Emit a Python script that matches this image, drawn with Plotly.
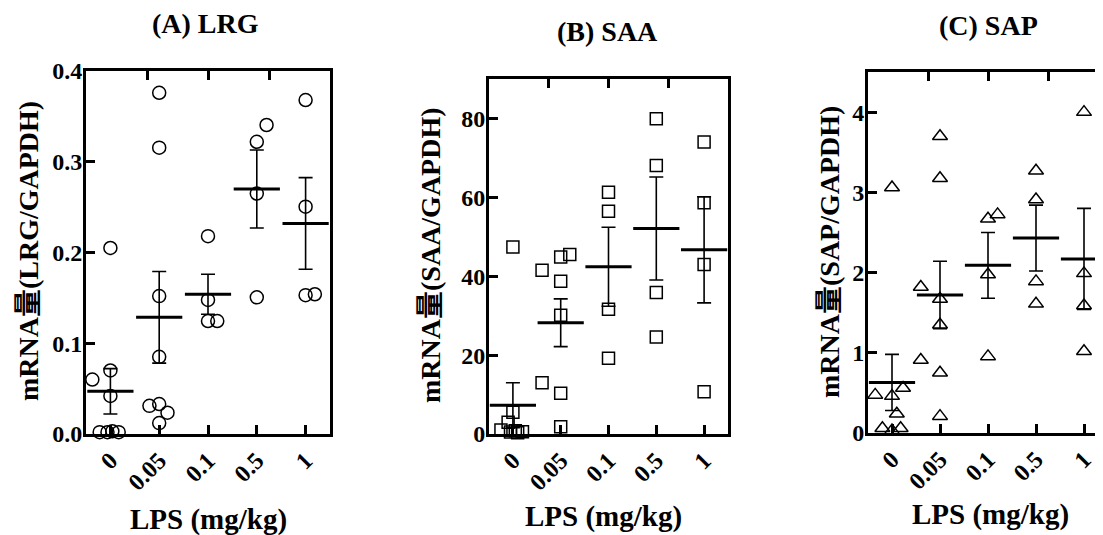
import plotly.graph_objects as go

W, H = 1103, 535
OFF = 8  # page body margin of the html page (figure sits at 8,8 on screen)

# ---------------- data ----------------
doses = ["0", "0.05", "0.1", "0.5", "1"]

# (A) LRG individual values per dose group
lrg_0 = [0.205, 0.060, 0.070, 0.042, 0.002, 0.002, 0.003, 0.002]
lrg_005 = [0.376, 0.3155, 0.152, 0.085, 0.031, 0.033, 0.0235, 0.012]
lrg_01 = [0.218, 0.1477, 0.1245, 0.1245]
lrg_05 = [0.3405, 0.322, 0.265, 0.1506]
lrg_1 = [0.368, 0.2505, 0.153, 0.154]
lrg_mean = [0.047, 0.1286, 0.154, 0.270, 0.232]
lrg_sem = [0.025, 0.0505, 0.022, 0.043, 0.0505]

# (B) SAA
saa_0 = [47.4, 5.5, 3.0, 1.0, 0.8, 0.6, 0.5, 0.3]
saa_005 = [44.9, 45.5, 41.5, 38.7, 30.1, 13.0, 10.3, 1.85]
saa_01 = [61.3, 56.5, 31.6, 19.2]
saa_05 = [79.9, 68.1, 35.9, 24.6]
saa_1 = [74.0, 58.6, 43.0, 10.7]
saa_mean = [7.3, 28.2, 42.4, 52.1, 46.7]
saa_sem = [5.7, 6.05, 10.0, 13.05, 13.45]

# (C) SAP
sap_0 = [3.06, 0.475, 0.46, 0.56, 0.24, 0.06, 0.03, 0.06]
sap_005 = [3.70, 3.175, 1.82, 1.67, 1.35, 0.91, 0.75, 0.21]
sap_01 = [2.67, 2.725, 1.975, 0.955]
sap_05 = [3.27, 2.91, 1.89, 1.61]
sap_1 = [4.0, 1.99, 1.59, 1.02]
sap_mean = [0.63, 1.72, 2.09, 2.43, 2.17]
sap_sem = [0.35, 0.42, 0.41, 0.41, 0.63]

# horizontal scatter (jitter) of the points, in category units
lrg_jit = [[0, -0.37, 0, 0, -0.22, -0.06, 0.04, 0.17],
           [0, 0, 0, 0, -0.2, 0, 0.17, 0],
           [0, 0, 0, 0.19],
           [0.2, 0, 0, 0],
           [0, 0, 0, 0.19]]
saa_jit = [[0, 0, -0.1, -0.25, 0.05, 0.2, -0.05, 0.1],
           [0, 0.19, -0.39, 0, 0, -0.39, 0, 0],
           [0, 0, 0, 0],
           [0, 0, 0, 0],
           [0, 0, 0, 0]]
sap_jit = [[0, -0.35, 0, 0.23, 0.1, -0.2, 0, 0.18],
           [0, 0, -0.4, 0, 0, -0.4, 0, 0],
           [0, 0.2, 0, 0],
           [0, 0, 0, 0],
           [0, 0, 0, 0]]

titles = ["(A) LRG", "(B) SAA", "(C) SAP"]
ytitles = ["mRNA量(LRG/GAPDH)", "mRNA量(SAA/GAPDH)", "mRNA量(SAP/GAPDH)"]
xtitle = "LPS (mg/kg)"

panels = [
    dict(groups=[lrg_0, lrg_005, lrg_01, lrg_05, lrg_1], jit=lrg_jit, mean=lrg_mean, sem=lrg_sem,
         symbol="circle-open", size=13, yrange=[0, 0.4], ytick=[0, 0.1, 0.2, 0.3, 0.4], fmt=".1f",
         px=(86, 330), py=(71, 434)),
    dict(groups=[saa_0, saa_005, saa_01, saa_05, saa_1], jit=saa_jit, mean=saa_mean, sem=saa_sem,
         symbol="square-open", size=12, yrange=[0, 90], ytick=[0, 20, 40, 60, 80], fmt="d",
         px=(489, 728), py=(79, 434)),
    dict(groups=[sap_0, sap_005, sap_01, sap_05, sap_1], jit=sap_jit, mean=sap_mean, sem=sap_sem,
         symbol="triangle-up-open", size=13, yrange=[0, 4.5], ytick=[0, 1, 2, 3, 4], fmt="d",
         px=(868, 1108), py=(72, 433)),
]

FONT = "Liberation Serif, Times New Roman, Noto Sans CJK SC, serif"


def fx(px):
    return (px - OFF) / W


def fy(py):
    return 1 - (py - OFF) / H


fig = go.Figure()
layout = dict(template="none", width=W, height=H, margin=dict(l=0, r=0, t=0, b=0, autoexpand=False),
              paper_bgcolor="white", plot_bgcolor="white", showlegend=False,
              font=dict(family=FONT, color="black", size=20))
annotations = []

for i, p in enumerate(panels):
    n = i + 1
    xa = "x" if n == 1 else f"x{n}"
    ya = "y" if n == 1 else f"y{n}"
    xd = [fx(p["px"][0]), min(1.0, fx(p["px"][1]))]
    yd = [fy(p["py"][1]), fy(p["py"][0])]

    for g, (vals, jit) in enumerate(zip(p["groups"], p["jit"])):
        fig.add_trace(go.Scatter(
            x=[g + j for j in jit], y=vals, mode="markers", xaxis=xa, yaxis=ya,
            marker=dict(symbol=p["symbol"], size=p["size"], color="black",
                        line=dict(width=1.5, color="black")),
            hoverinfo="y", cliponaxis=False))
    fig.add_trace(go.Scatter(
        x=list(range(len(doses))), y=p["mean"], mode="markers", xaxis=xa, yaxis=ya,
        marker=dict(symbol="line-ew", size=33, color="black", line=dict(width=3, color="black")),
        error_y=dict(type="data", array=p["sem"], visible=True, color="black",
                     thickness=1.6, width=7), cliponaxis=False))

    common = dict(showline=True, linewidth=3, linecolor="black", ticks="inside",
                  ticklen=9, tickwidth=3, tickcolor="black", showgrid=False, zeroline=False,
                  automargin=False, layer="above traces",
                  tickfont=dict(family=FONT, size=24, color="black"))
    layout[f"xaxis{'' if n == 1 else n}"] = dict(
        domain=xd, anchor=ya, range=[-0.5, 4.5], tickmode="array",
        tickvals=list(range(len(doses))), ticktext=[f"<b>{d}</b>" for d in doses],
        tickangle=-45, mirror=True, **common)
    layout[f"yaxis{'' if n == 1 else n}"] = dict(
        domain=yd, anchor=xa, range=p["yrange"], tickmode="array",
        tickvals=p["ytick"], ticklabelstandoff=-4,
        ticktext=[f"<b>{format(v, p['fmt']) if p['fmt'] != 'd' else int(v)}</b>" for v in p["ytick"]],
        mirror=True, **common)
    # top axis ticks (quarters of the frame)
    tn = 3 + n
    layout[f"xaxis{tn}"] = dict(
        domain=xd, anchor=ya, overlaying=xa, side="top", range=[0, 4],
        tickmode="array", tickvals=[1, 2, 3], showticklabels=False, showline=False,
        ticks="inside", ticklen=9, tickwidth=3, tickcolor="black", showgrid=False,
        zeroline=False, automargin=False)
    fig.add_trace(go.Scatter(x=[None], y=[None], xaxis=f"x{tn}", yaxis=ya,
                             showlegend=False, hoverinfo="skip"))

title_pos = [(205, 23), (607, 32), (988, 25)]
ytitle_pos = [(28, 251), (430, 255), (830, 252)]
xtitle_pos = [(208, 519), (603, 516), (990, 514)]
for i in range(3):
    annotations.append(dict(text=f"<b>{titles[i]}</b>", x=fx(title_pos[i][0]),
                            y=fy(title_pos[i][1]), xref="paper", yref="paper",
                            showarrow=False, xanchor="center", yanchor="middle",
                            font=dict(family=FONT, size=28, color="black")))
    annotations.append(dict(text=f"<b>{ytitles[i]}</b>", x=fx(ytitle_pos[i][0]),
                            y=fy(ytitle_pos[i][1]), xref="paper", yref="paper",
                            showarrow=False, xanchor="center", yanchor="middle", textangle=-90,
                            font=dict(family=FONT, size=28, color="black")))
    annotations.append(dict(text=f"<b>{xtitle}</b>", x=fx(xtitle_pos[i][0]),
                            y=fy(xtitle_pos[i][1]), xref="paper", yref="paper",
                            showarrow=False, xanchor="center", yanchor="middle",
                            font=dict(family=FONT, size=29, color="black")))

layout["annotations"] = annotations
fig.update_layout(**layout)
fig.write_html("out.html")
